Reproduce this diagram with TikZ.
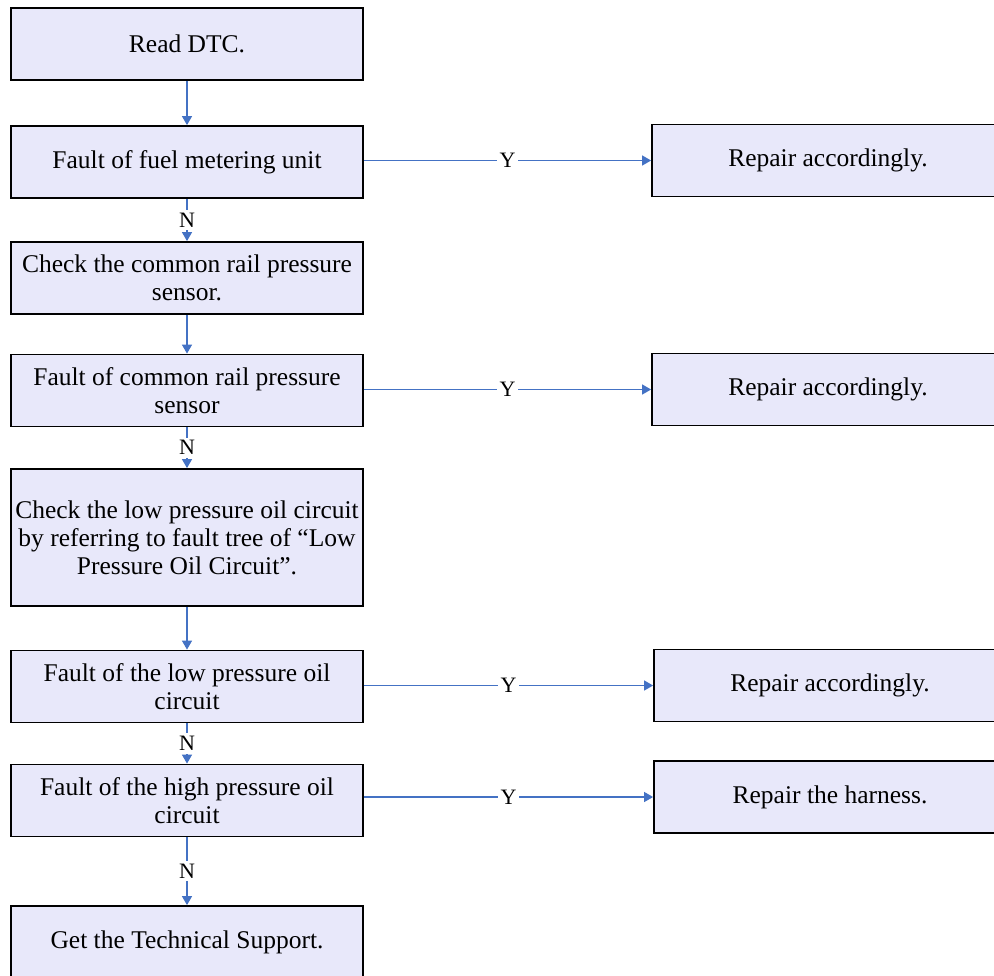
\documentclass[tikz,border=0pt]{standalone}
\usepackage{fontspec}
\setmainfont{Liberation Serif}
\usetikzlibrary{arrows.meta}
\definecolor{boxfill}{RGB}{232,232,250}
\definecolor{flow}{RGB}{68,114,196}

\begin{document}
\begin{tikzpicture}[
    node distance=58pt,
    box/.style={draw,line width=0.9pt,fill=boxfill,minimum width=176pt,minimum height=36pt,
      align=center,inner sep=1pt,font=\fontsize{12.75}{14}\selectfont},
    flowline/.style={draw=flow,line width=0.65pt,-{Triangle[width=5pt,length=4.5pt]}},
    yn/.style={fill=white,inner sep=1.5pt,font=\fontsize{11}{12}\selectfont}
  ]
      \useasboundingbox (0,0) rectangle (497pt,-487.5pt);

      \node[box] (1) at (93.5pt,-22pt) {Read DTC.};
      \node[box,below of=1,yshift=-1pt] (2) {Fault of fuel metering unit};
      \node[box,below of=2] (3) {Check the common rail pressure\\sensor.};
      \node[box,below of=3,yshift=1.75pt] (4) {Fault of common rail pressure\\sensor};
      \node[box,below of=4,yshift=-15.5pt,minimum height=68.5pt] (5) {Check the low pressure oil circuit\\by referring to fault tree of “Low\\Pressure Oil Circuit”.};
      \node[box,below of=5,yshift=-16.5pt] (6) {Fault of the low pressure oil\\circuit};
      \node[box,below of=6,yshift=1pt] (7) {Fault of the high pressure oil\\circuit};
      \node[box,below of=7,yshift=-12.75pt] (8) {Get the Technical Support.};

      \node[box,right of=2,node distance=320.5pt,yshift=0.75pt] (9) {Repair accordingly.};
      \node[box,right of=4,node distance=320.5pt,yshift=0.5pt] (10) {Repair accordingly.};
      \node[box,right of=6,node distance=321.5pt,yshift=0.5pt] (11) {Repair accordingly.};
      \node[box,right of=7,node distance=321.5pt,yshift=1.75pt] (12) {Repair the harness.};

      \draw[flowline] (1) -- (2);
      \draw[flowline] (2) -- node[yn] {N} (3);
      \draw[flowline] (3) -- (4);
      \draw[flowline] (4) -- node[yn] {N} (5);
      \draw[flowline] (5) -- (6);
      \draw[flowline] (6) -- node[yn] {N} (7);
      \draw[flowline] (7) -- node[yn] {N} (8);

      \draw[flowline] (2.east |- 9.west) -- node[yn] {Y} (9.west);
      \draw[flowline] (4.east |- 10.west) -- node[yn] {Y} (10.west);
      \draw[flowline] (6.east |- 11.west) -- node[yn] {Y} (11.west);
      \draw[flowline] (7.east |- 12.west) -- node[yn] {Y} (12.west);
    \end{tikzpicture}
\end{document}
